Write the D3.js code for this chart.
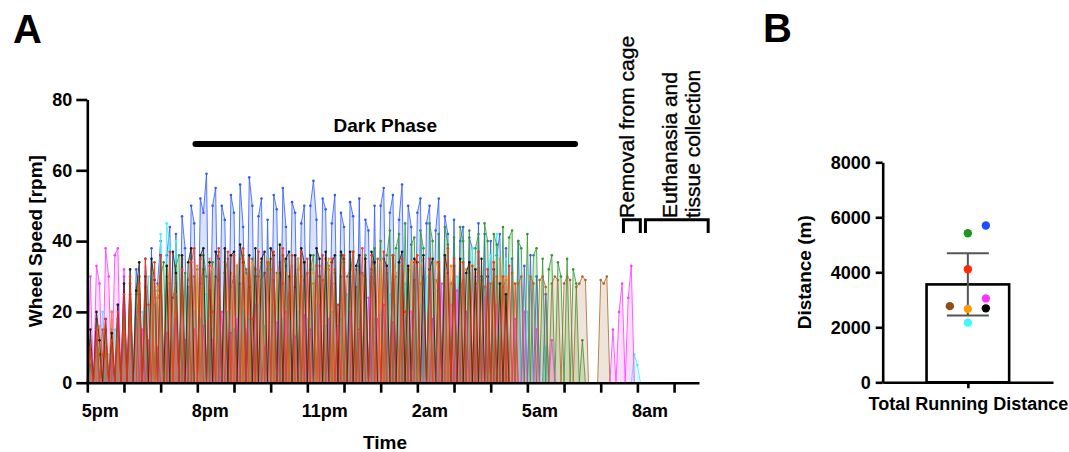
<!DOCTYPE html>
<html>
<head>
<meta charset="utf-8">
<script src="https://cdn.jsdelivr.net/npm/d3@7"></script>
<style>
  body { margin: 0; background: #fff; }
  svg { display: block; font-family: "Liberation Sans", Arial, sans-serif; }
</style>
</head>
<body>
<svg id="chart" width="1069" height="452"></svg>
<script>
// wheel speed samples, one every 5 minutes starting 5pm (one line = one hour)
const stepHours = 5 / 60

const speedBlue = [
  0, 8, 0, 12, 0, 0, 10, 0, 15, 0, 22, 0,
  30, 0, 18, 0, 32, 25, 0, 35, 0, 38, 0, 28,
  40, 0, 36, 44, 0, 42, 0, 47, 38, 0, 50, 45,
  0, 52, 48, 59, 0, 50, 55, 0, 50, 46, 0, 53,
  48, 0, 56, 44, 0, 58, 50, 0, 47, 52, 0, 46,
  0, 53, 49, 0, 55, 44, 0, 51, 48, 0, 45, 50,
  0, 50, 57, 46, 0, 52, 49, 0, 45, 53, 0, 48,
  44, 0, 51, 47, 0, 52, 0, 46, 43, 0, 50, 0,
  50, 55, 0, 48, 53, 0, 46, 56, 0, 50, 44, 0,
  48, 52, 0, 45, 50, 0, 43, 52, 0, 47, 42, 0,
  46, 0, 40, 44, 0, 41, 38, 0, 45, 0, 42, 0,
  40, 0, 36, 42, 0, 38, 0, 35, 0, 40, 0, 33,
  0, 36, 0, 30, 0, 0, 25, 0
]
const speedGreen = [
  0, 5, 0, 12, 8, 0, 15, 0, 10, 0, 18, 0,
  22, 0, 28, 0, 25, 30, 0, 27, 0, 32, 0, 26,
  30, 34, 0, 28, 0, 33, 36, 0, 31, 0, 35, 0,
  32, 0, 36, 30, 0, 34, 0, 37, 0, 31, 35, 0,
  0, 33, 0, 36, 31, 0, 35, 0, 30, 34, 0, 32,
  35, 0, 31, 0, 36, 33, 0, 30, 0, 35, 0, 34,
  0, 32, 36, 0, 30, 0, 35, 33, 0, 31, 0, 36,
  34, 0, 30, 37, 0, 33, 0, 36, 0, 32, 38, 0,
  40, 0, 36, 43, 0, 38, 42, 0, 45, 0, 39, 41,
  0, 43, 38, 0, 45, 40, 0, 42, 0, 44, 39, 0,
  41, 0, 44, 40, 0, 43, 0, 38, 42, 0, 45, 40,
  0, 42, 39, 0, 44, 0, 41, 43, 0, 40, 38, 0,
  42, 0, 36, 38, 0, 35, 0, 32, 36, 0, 34, 30,
  0, 35, 0, 32, 28, 0, 12, 0
]
const speedRed = [
  0, 10, 0, 15, 0, 8, 18, 0, 12, 0, 20, 0,
  25, 0, 30, 0, 0, 28, 0, 35, 22, 0, 34, 0,
  36, 0, 0, 37, 0, 25, 0, 32, 0, 0, 34, 38,
  0, 35, 0, 0, 33, 20, 0, 38, 0, 0, 37, 0,
  36, 0, 0, 38, 0, 35, 18, 0, 37, 0, 0, 34,
  0, 37, 0, 0, 38, 0, 24, 36, 0, 0, 37, 0,
  35, 0, 0, 33, 0, 36, 0, 0, 35, 0, 22, 0,
  36, 0, 0, 37, 0, 15, 38, 0, 0, 36, 0, 35,
  0, 37, 0, 0, 36, 0, 0, 35, 20, 0, 0, 34,
  36, 0, 0, 0, 35, 0, 0, 34, 0, 0, 38, 0,
  35, 0, 0, 34, 0, 0, 33, 0, 37, 0, 0, 32,
  0, 34, 0, 0, 30, 0, 33, 0, 28, 0
]
const speedBlack = [
  0, 15, 0, 20, 12, 0, 18, 0, 14, 0, 22, 0,
  28, 0, 32, 0, 26, 34, 0, 30, 0, 35, 29, 0,
  36, 0, 33, 0, 37, 31, 0, 36, 0, 34, 38, 0,
  0, 36, 38, 0, 34, 0, 37, 35, 0, 38, 0, 36,
  37, 0, 39, 34, 0, 36, 0, 38, 0, 35, 37, 0,
  38, 36, 0, 39, 0, 35, 37, 0, 36, 0, 38, 34,
  0, 36, 0, 38, 35, 0, 37, 0, 34, 36, 0, 37,
  35, 0, 37, 0, 33, 36, 0, 35, 0, 37, 34, 0,
  0, 35, 33, 0, 36, 0, 34, 37, 0, 33, 0, 35,
  34, 0, 36, 0, 32, 35, 0, 34, 0, 36, 31, 0,
  33, 0, 35, 0, 31, 34, 0, 32, 0, 35, 0, 30,
  0, 32, 0, 28, 0, 25, 0
]
const speedOrange = [
  0, 12, 0, 8, 16, 0, 10, 0, 20, 0, 14, 0,
  24, 0, 28, 0, 22, 30, 0, 26, 0, 32, 0, 27,
  30, 0, 33, 28, 0, 31, 0, 35, 0, 29, 32, 0,
  33, 0, 30, 0, 35, 32, 0, 28, 0, 34, 0, 31,
  0, 33, 35, 0, 30, 0, 34, 32, 0, 29, 0, 35,
  32, 0, 30, 34, 0, 31, 0, 33, 0, 35, 30, 0,
  0, 34, 31, 0, 33, 0, 30, 35, 0, 32, 0, 34,
  31, 0, 35, 0, 32, 30, 0, 34, 0, 31, 33, 0,
  34, 0, 32, 0, 35, 31, 0, 33, 0, 30, 34, 0,
  0, 33, 35, 0, 31, 0, 34, 32, 0, 35, 0, 33,
  30, 0, 34, 0, 32, 33, 0, 31, 0, 29, 0, 27,
  0, 34, 0, 35, 0, 30, 0
]
const speedMagenta = [
  0, 30, 0, 33, 28, 0, 38, 30, 0, 36, 38, 0,
  32, 0, 25, 0, 20, 0, 15, 0, 12, 0, 0, 10,
  0, 0, 14, 0, 0, 18, 0, 0, 12, 0, 0, 15,
  0, 0, 16, 0, 0, 12, 0, 0, 20, 0, 0, 14,
  0, 18, 0, 0, 15, 0, 0, 22, 0, 0, 10, 0,
  0, 0, 17, 0, 0, 20, 0, 0, 13, 0, 0, 19,
  0, 15, 0, 0, 22, 0, 0, 18, 0, 0, 16, 0,
  0, 0, 20, 0, 0, 14, 0, 0, 24, 0, 0, 18,
  0, 22, 0, 0, 17, 0, 0, 25, 0, 0, 20, 0,
  0, 0, 24, 0, 0, 18, 0, 0, 28, 0, 0, 22,
  0, 26, 0, 0, 20, 0, 0, 30, 0, 0, 24, 0,
  0, 0, 22, 0, 0, 27, 0, 0, 18, 0, 0, 20,
  0, 0, 0, 15, 0, 0, 0, 0, 12, 0, 0, 0,
  0, 0, 0, 0, 0, 0, 0, 0, 0, 0, 0, 0,
  0, 0, 0, 0, 15, 0, 20, 28, 0, 24, 33, 0
]
const speedCyan = [
  0, 5, 0, 10, 0, 20, 0, 8, 0, 15, 0, 0,
  12, 0, 18, 0, 25, 0, 20, 0, 30, 0, 22, 0,
  42, 0, 45, 38, 0, 40, 0, 30, 0, 25, 0, 20,
  0, 18, 0, 25, 0, 15, 0, 22, 0, 0, 20, 0,
  15, 0, 0, 20, 0, 18, 0, 0, 22, 0, 16, 0,
  0, 20, 0, 0, 18, 0, 25, 0, 0, 20, 0, 15,
  18, 0, 0, 22, 0, 0, 16, 0, 20, 0, 0, 18,
  0, 25, 0, 0, 20, 0, 0, 24, 0, 0, 18, 0,
  20, 0, 0, 25, 0, 22, 0, 0, 28, 0, 0, 24,
  0, 22, 0, 30, 0, 0, 26, 0, 0, 32, 0, 28,
  0, 30, 0, 35, 0, 0, 38, 0, 33, 0, 0, 30,
  36, 0, 42, 0, 0, 35, 0, 30, 0, 28, 0, 0,
  20, 0, 0, 15, 0, 0, 10, 0, 0, 0, 0, 0,
  0, 0, 0, 0, 0, 0, 0, 0, 0, 0, 0, 0,
  0, 0, 0, 0, 0, 0, 0, 0, 0, 0, 0, 8,
  5, 0
]
const speedBrown = [
  0, 10, 0, 18, 0, 15, 8, 0, 20, 0, 12, 0,
  16, 0, 22, 0, 18, 25, 0, 20, 0, 28, 0, 24,
  26, 0, 30, 0, 24, 28, 0, 32, 0, 27, 0, 30,
  0, 28, 32, 0, 26, 0, 30, 29, 0, 31, 0, 27,
  30, 0, 28, 0, 32, 27, 0, 30, 0, 29, 31, 0,
  0, 29, 0, 31, 28, 0, 30, 0, 27, 32, 0, 29,
  31, 0, 28, 0, 30, 29, 0, 32, 0, 28, 0, 30,
  0, 30, 32, 0, 27, 0, 31, 29, 0, 30, 28, 0,
  29, 0, 31, 0, 28, 30, 0, 27, 0, 32, 0, 29,
  0, 28, 30, 0, 31, 0, 29, 27, 0, 30, 0, 28,
  30, 0, 27, 29, 0, 31, 0, 28, 0, 30, 27, 0,
  28, 0, 30, 0, 27, 29, 0, 31, 0, 28, 30, 0,
  0, 30, 28, 0, 29, 30, 27, 0, 28, 30, 29, 0,
  28, 30, 29, 0, 27, 28, 30, 29, 0, 0, 0, 0,
  29, 28, 30, 0
]

const xTickHours = d3.range(0, 17)
const xTickLabels = { 0: '5pm', 3: '8pm', 6: '11pm', 9: '2am', 12: '5am', 15: '8am' }
const yTicksA = [0, 20, 40, 60, 80]
const darkPhase = [2.95, 13.3]

// panel B: one total distance per mouse
const mice = ['brown', 'green', 'red', 'orange', 'cyan', 'blue', 'magenta', 'black']
const distances = [2770, 5420, 4110, 2670, 2170, 5700, 3050, 2690]
const dotColumn = [-1, 0, 0, 0, 0, 1, 1, 1]
const meanDistance = 3560
const sdDistance = 1130
const yTicksB = [0, 2000, 4000, 6000, 8000]

const lineColours = {
  blue: '#2f5cff', green: '#2f9a2f', red: '#ff3412', orange: '#ff8f1c',
  black: '#1b1b1b', magenta: '#ff3cff', cyan: '#3cf5ff', brown: '#a8692c'
}
const dotColours = {
  blue: '#1f4dff', green: '#1e951e', red: '#ff2a00', orange: '#ff9a00',
  black: '#000000', magenta: '#ff33ff', cyan: '#3ff7ff', brown: '#8e4f14'
}

const svg = d3.select('#chart')
const font = '"Liberation Sans", Arial, sans-serif'

// ---------- panel A ----------
const xA = d3.scaleLinear().domain([0, 16.68]).range([87.3, 699])
const yA = d3.scaleLinear().domain([0, 80]).range([382.7, 99.5])

const series = [
  ['blue', speedBlue], ['cyan', speedCyan], ['green', speedGreen], ['magenta', speedMagenta],
  ['brown', speedBrown], ['orange', speedOrange], ['black', speedBlack], ['red', speedRed]
]

const area = d3.area()
  .x((d, i) => xA(i * stepHours))
  .y0(yA(0))
  .y1(d => yA(d))
const line = d3.line()
  .x((d, i) => xA(i * stepHours))
  .y(d => yA(d))

const plot = svg.append('g')
series.forEach(([name, values]) => {
  const g = plot.append('g')
  g.append('path')
    .attr('d', area(values))
    .attr('fill', lineColours[name])
    .attr('fill-opacity', 0.18)
  g.append('path')
    .attr('d', line(values))
    .attr('fill', 'none')
    .attr('stroke', lineColours[name])
    .attr('stroke-width', 0.9)
    .attr('stroke-opacity', 0.9)
  g.selectAll('circle')
    .data(values.map((v, i) => [i, v]).filter(d => d[1] > 0))
    .join('circle')
    .attr('cx', d => xA(d[0] * stepHours))
    .attr('cy', d => yA(d[1]))
    .attr('r', 1.3)
    .attr('fill', lineColours[name])
})

const axisStyle = (g, size) => {
  g.attr('font-family', font).attr('font-size', size).attr('font-weight', 'bold')
  g.selectAll('path, line').attr('stroke', '#000').attr('stroke-width', 2.6)
  g.selectAll('text').attr('fill', '#000')
}

svg.append('g')
  .attr('transform', `translate(0, ${yA(0)})`)
  .call(d3.axisBottom(xA)
    .tickValues(xTickHours)
    .tickSize(10)
    .tickSizeOuter(0)
    .tickPadding(12)
    .tickFormat(h => xTickLabels[h] || ''))
  .call(g => axisStyle(g, 18))
  .call(g => g.selectAll('text').attr('text-anchor', 'start').attr('dx', -6))

svg.append('g')
  .attr('transform', `translate(${xA(0)}, 0)`)
  .call(d3.axisLeft(yA)
    .tickValues(yTicksA)
    .tickSize(11)
    .tickSizeOuter(0)
    .tickPadding(4))
  .call(g => axisStyle(g, 18))

svg.append('text')
  .attr('transform', `translate(42, ${(yA(0) + yA(80)) / 2}) rotate(-90)`)
  .attr('text-anchor', 'middle')
  .attr('font-family', font).attr('font-weight', 'bold').attr('font-size', 19)
  .text('Wheel Speed [rpm]')

svg.append('text')
  .attr('x', 385).attr('y', 449)
  .attr('text-anchor', 'middle')
  .attr('font-family', font).attr('font-weight', 'bold').attr('font-size', 19)
  .text('Time')

// dark phase bar
svg.append('line')
  .attr('x1', xA(darkPhase[0])).attr('x2', xA(darkPhase[1]))
  .attr('y1', 144).attr('y2', 144)
  .attr('stroke', '#000').attr('stroke-width', 6).attr('stroke-linecap', 'round')
svg.append('text')
  .attr('x', (xA(darkPhase[0]) + xA(darkPhase[1])) / 2).attr('y', 132)
  .attr('text-anchor', 'middle')
  .attr('font-family', font).attr('font-weight', 'bold').attr('font-size', 19)
  .text('Dark Phase')

// end-of-experiment brackets
const brackets = [[14.62, 15.08], [15.22, 16.93]]
brackets.forEach(([a, b]) => {
  svg.append('path')
    .attr('d', `M${xA(a)},${yA(42.3)}V${yA(46)}H${xA(b)}V${yA(42.3)}`)
    .attr('fill', 'none').attr('stroke', '#000').attr('stroke-width', 3)
})
const noteLines = [['Removal from cage', 634], ['Euthanasia and', 677], ['tissue collection', 700]]
noteLines.forEach(([t, bx]) => {
  svg.append('text')
    .attr('transform', `translate(${bx}, 218) rotate(-90)`)
    .attr('font-family', font).attr('font-size', 21)
    .attr('fill', '#000').attr('stroke', '#000').attr('stroke-width', 0.35)
    .text(t)
})

svg.append('text')
  .attr('x', 13).attr('y', 43)
  .attr('font-family', font).attr('font-weight', 'bold').attr('font-size', 40)
  .text('A')

// ---------- panel B ----------
const xB = d3.scalePoint().domain(['Total Running Distance']).range([882.7, 1053]).padding(0.5)
const yB = d3.scaleLinear().domain([0, 8000]).range([382.3, 162.3])
const xJitter = d3.scalePoint().domain([-1, 0, 1]).range([-18, 18])
const barX = xB('Total Running Distance')
const barHalf = 41.3

svg.append('rect')
  .attr('x', barX - barHalf).attr('width', barHalf * 2)
  .attr('y', yB(meanDistance)).attr('height', yB(0) - yB(meanDistance))
  .attr('fill', '#fff').attr('stroke', '#000').attr('stroke-width', 2.6)

const err = svg.append('g').attr('stroke', '#555').attr('stroke-width', 2)
err.append('line')
  .attr('x1', barX).attr('x2', barX)
  .attr('y1', yB(meanDistance + sdDistance)).attr('y2', yB(meanDistance - sdDistance))
;[meanDistance + sdDistance, meanDistance - sdDistance].forEach(v => {
  err.append('line')
    .attr('x1', barX - 21).attr('x2', barX + 21)
    .attr('y1', yB(v)).attr('y2', yB(v))
})

svg.append('g')
  .selectAll('circle')
  .data(mice)
  .join('circle')
  .attr('cx', (d, i) => barX + xJitter(dotColumn[i]))
  .attr('cy', (d, i) => yB(distances[i]))
  .attr('r', 4.2)
  .attr('fill', d => dotColours[d])

svg.append('g')
  .attr('transform', `translate(0, ${yB(0)})`)
  .call(d3.axisBottom(xB).tickSize(6).tickSizeOuter(0).tickPadding(9))
  .call(g => axisStyle(g, 18))

svg.append('g')
  .attr('transform', `translate(882.7, 0)`)
  .call(d3.axisLeft(yB).tickValues(yTicksB).tickFormat(d3.format('d')).tickSize(7).tickSizeOuter(0).tickPadding(5))
  .call(g => axisStyle(g, 18))

svg.append('text')
  .attr('transform', `translate(811, ${(yB(0) + yB(8000)) / 2}) rotate(-90)`)
  .attr('text-anchor', 'middle')
  .attr('font-family', font).attr('font-weight', 'bold').attr('font-size', 19)
  .text('Distance (m)')

svg.append('text')
  .attr('x', 763).attr('y', 42)
  .attr('font-family', font).attr('font-weight', 'bold').attr('font-size', 40)
  .text('B')
</script>
</body>
</html>
